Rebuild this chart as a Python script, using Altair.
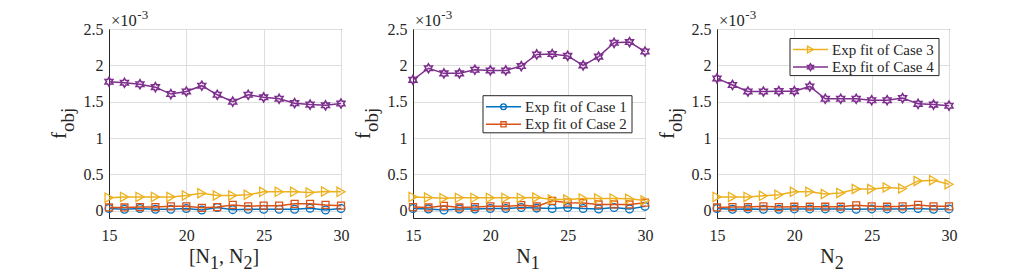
import math
import altair as alt
import pandas as pd

# ---------------- data (values in units of 1e-3) ----------------
x_vals = list(range(15, 31))
case_names = ["Exp fit of Case 1", "Exp fit of Case 2", "Exp fit of Case 3", "Exp fit of Case 4"]

# panel 1: [N1, N2]
p1_case1 = [0.03, 0.02, 0.03, 0.02, 0.02, 0.03, 0.01, 0.045, 0.015, 0.02, 0.02, 0.02, 0.02, 0.035, 0.01, 0.03]
p1_case2 = [0.045, 0.045, 0.05, 0.05, 0.06, 0.06, 0.04, 0.05, 0.08, 0.06, 0.07, 0.07, 0.095, 0.095, 0.08, 0.07]
p1_case3 = [0.18, 0.19, 0.19, 0.19, 0.19, 0.21, 0.24, 0.21, 0.21, 0.22, 0.26, 0.26, 0.26, 0.25, 0.265, 0.26]
p1_case4 = [1.775, 1.76, 1.74, 1.70, 1.605, 1.64, 1.72, 1.595, 1.50, 1.595, 1.56, 1.54, 1.48, 1.46, 1.45, 1.475]

# panel 2: N1
p2_case1 = [0.03, 0.023, 0.01, 0.023, 0.023, 0.03, 0.03, 0.045, 0.036, 0.03, 0.045, 0.03, 0.023, 0.045, 0.023, 0.06]
p2_case2 = [0.05, 0.045, 0.068, 0.045, 0.05, 0.06, 0.06, 0.077, 0.06, 0.136, 0.11, 0.105, 0.086, 0.086, 0.086, 0.11]
p2_case3 = [0.19, 0.182, 0.173, 0.177, 0.177, 0.177, 0.177, 0.177, 0.182, 0.155, 0.155, 0.168, 0.168, 0.168, 0.164, 0.141]
p2_case4 = [1.80, 1.96, 1.89, 1.89, 1.94, 1.93, 1.93, 1.99, 2.15, 2.155, 2.13, 2.00, 2.12, 2.31, 2.32, 2.19]

# panel 3: N2
p3_case1 = [0.03, 0.02, 0.025, 0.02, 0.02, 0.025, 0.025, 0.025, 0.025, 0.02, 0.025, 0.025, 0.025, 0.03, 0.02, 0.025]
p3_case2 = [0.045, 0.05, 0.05, 0.06, 0.05, 0.055, 0.055, 0.055, 0.055, 0.075, 0.06, 0.055, 0.06, 0.08, 0.06, 0.06]
p3_case3 = [0.19, 0.19, 0.19, 0.205, 0.22, 0.26, 0.26, 0.23, 0.245, 0.30, 0.30, 0.32, 0.305, 0.41, 0.42, 0.365]
p3_case4 = [1.82, 1.73, 1.64, 1.64, 1.645, 1.645, 1.71, 1.54, 1.54, 1.54, 1.52, 1.52, 1.55, 1.47, 1.46, 1.445]

x_ticks = [15, 20, 25, 30]
y_ticks = [0, 0.5, 1, 1.5, 2, 2.5]

# ---------------- styling ----------------
FONT = "Liberation Serif"
DARK = "#262626"
colors = ["#0072BD", "#D95319", "#EDB120", "#7E2F8E"]


def hexagram_path():
    pts = []
    for k in range(12):
        ang = math.radians(-90 + 30 * k)
        r = 1.0 if k % 2 == 0 else 0.577
        pts.append((r * math.cos(ang), r * math.sin(ang)))
    return "M" + "L".join(f"{a:.3f},{b:.3f}" for a, b in pts) + "Z"


shapes = ["circle", "square", "triangle-right", hexagram_path()]
sizes = [60, 48, 85, 80]
strokes = [1.3, 1.3, 1.3, 1.6]

W, H = 232, 189
TICK_FS = 16

# Times metric widths (em) for layout of composed titles
METRIC = {"[": 0.333, "]": 0.333, "N": 0.722, ",": 0.25, " ": 0.25, "1": 0.5, "2": 0.5,
          "3": 0.5, "0": 0.5, "f": 0.333, "o": 0.5, "b": 0.5, "j": 0.278, "×": 0.564, "-": 0.333}


def text_width(s, size):
    return sum(METRIC.get(ch, 0.5) for ch in s) * size


def one_row():
    return pd.DataFrame({"a": [0]})


def text_layer(txt, x, y, size, angle=0, align="left", baseline="alphabetic", color=DARK):
    return alt.Chart(pd.DataFrame({"t": [txt]})).mark_text(
        font=FONT, fontSize=size, angle=angle, align=align, baseline=baseline, color=color
    ).encode(text="t:N", x=alt.value(x), y=alt.value(y))


def composed_h(pieces, cx, base_y):
    """pieces: (text, size, dy). Laid out horizontally and centred on cx."""
    total = sum(text_width(t, s) for t, s, _ in pieces)
    x = cx - total / 2
    out = []
    for t, s, dy in pieces:
        out.append(text_layer(t, x, base_y + dy, s))
        x += text_width(t, s)
    return out


def ytitle():
    # rotated f_obj (reads bottom to top); subscript is shifted towards the axis
    f_size, sub_size = 21, 19
    start = 110
    sub_start = start - text_width("f", f_size)
    return [text_layer("f", -43, start, f_size, angle=270),
            text_layer("obj", -35, sub_start, sub_size, angle=270)]


def exponent():
    return [text_layer("×10", 2, -3, 16.5), text_layer("-3", 2.5 + text_width("×10", 16.5), -10, 13)]


def legend(cases, row1_y, left):
    layers = []
    row_gap = 17.6
    box_w = 149
    top = row1_y - 11
    bottom = row1_y + row_gap + 8.5
    layers.append(
        alt.Chart(one_row()).mark_rect(fill="white", stroke=DARK, strokeWidth=1).encode(
            x=alt.value(left), x2=alt.value(left + box_w), y=alt.value(top), y2=alt.value(bottom)
        )
    )
    for i, ci in enumerate(cases):
        yy = row1_y + i * row_gap
        layers.append(
            alt.Chart(one_row()).mark_rule(color=colors[ci], strokeWidth=1.5).encode(
                x=alt.value(left + 3), x2=alt.value(left + 38), y=alt.value(yy)
            )
        )
        layers.append(
            alt.Chart(one_row()).mark_point(
                shape=shapes[ci], size=sizes[ci] * 0.55, filled=False, color=colors[ci],
                strokeWidth=strokes[ci], opacity=1
            ).encode(x=alt.value(left + 20.5), y=alt.value(yy))
        )
        layers.append(text_layer(case_names[ci], left + 42, yy + 5, 15))
    return layers


def panel(series, xtitle_pieces, legend_cases=None, legend_row1=None, legend_left=None, guide=False):
    xs = alt.X("x:Q", scale=alt.Scale(domain=[15, 30], nice=False, zero=False),
               axis=alt.Axis(values=x_ticks, title=None, labelPadding=9, format="~g", labelFlush=False,
                             labelFont=FONT, labelFontSize=TICK_FS, labelColor=DARK))
    ys = alt.Y("value:Q", scale=alt.Scale(domain=[-0.1, 2.5], nice=False, zero=False),
               axis=alt.Axis(values=y_ticks, title=None, labelPadding=6, format="~g",
                             labelFont=FONT, labelFontSize=TICK_FS, labelColor=DARK))
    layers = []
    for i, vals in enumerate(series):
        df = pd.DataFrame({"x": x_vals, "value": vals, "case": case_names[i]})
        base = alt.Chart(df)
        layers.append(base.mark_line(color=colors[i], strokeWidth=1.5).encode(x=xs, y=ys))
        layers.append(base.mark_point(shape=shapes[i], size=sizes[i], filled=False, color=colors[i],
                                      strokeWidth=strokes[i], opacity=1).encode(x=xs, y=ys))
    layers += exponent()
    layers += ytitle()
    layers += composed_h(xtitle_pieces, W / 2 - 1, 234)
    if legend_cases is not None:
        layers += legend(legend_cases, legend_row1, legend_left)
    if guide:
        # invisible frame that fixes where the plot area sits on the page
        layers.append(
            alt.Chart(one_row()).mark_rule(opacity=0).encode(
                x=alt.value(-100), y=alt.value(-17), y2=alt.value(200)
            )
        )
    return alt.layer(*layers).properties(width=W, height=H)


SUB = 18
c1 = panel([p1_case1, p1_case2, p1_case3, p1_case4],
           [("[N", 20, 0), ("1", SUB, 6), (", N", 20, 0), ("2", SUB, 6), ("]", 20, 0)], guide=True)
c2 = panel([p2_case1, p2_case2, p2_case3, p2_case4],
           [("N", 20, 0), ("1", SUB, 6)], legend_cases=[0, 1], legend_row1=77.7, legend_left=70)
c3 = panel([p3_case1, p3_case2, p3_case3, p3_case4],
           [("N", 20, 0), ("2", SUB, 6)], legend_cases=[2, 3], legend_row1=20.5, legend_left=73)

chart = alt.hconcat(c1, c2, c3, spacing=72, bounds="flush").properties(
    padding={"left": 0, "top": 0, "right": 5, "bottom": 5},
    background="white",
).configure_view(stroke=DARK, strokeWidth=1).configure_axis(
    labelFont=FONT, labelFontSize=TICK_FS, labelColor=DARK, domainColor=DARK, domainWidth=1,
    grid=True, gridColor="#DEDEDE", gridWidth=1, ticks=False, tickSize=0,
)

chart.save("out.html", embed_options={"renderer": "svg", "actions": False})
